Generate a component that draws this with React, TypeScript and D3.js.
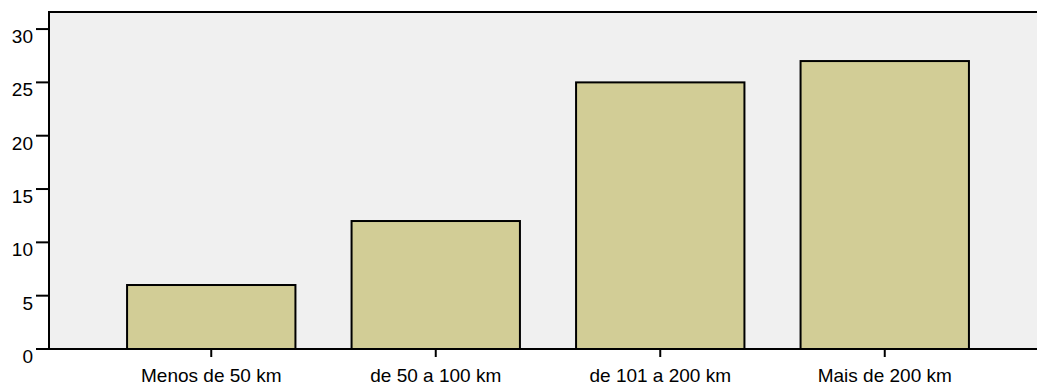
import { useEffect, useRef } from 'react';
import * as d3 from 'd3';

const categories = ['Menos de 50 km', 'de 50 a 100 km', 'de 101 a 200 km', 'Mais de 200 km'];
const counts = [6, 12, 25, 27];
const yTicks = [0, 5, 10, 15, 20, 25, 30];

export default function App() {
  const svgRef = useRef<SVGSVGElement>(null);

  useEffect(() => {
    if (!svgRef.current) return;
    const svg = d3.select(svgRef.current);
    svg.selectAll('*').remove();

    const width = 1037;
    const height = 385;
    const left = 49;
    const top = 12;
    const bottom = 349;
    const font = 'Liberation Sans, Arial, Helvetica, sans-serif';

    const y = d3.scaleLinear().domain([0, 31.6]).range([bottom, top]);
    const x = d3.scaleBand<string>().domain(categories).range([99, 997]).paddingInner(0.25).paddingOuter(0.125);

    svg.attr('width', width).attr('height', height);

    svg.append('rect')
      .attr('x', left).attr('y', top)
      .attr('width', width - left).attr('height', bottom - top)
      .attr('fill', '#f0f0f0');

    svg.selectAll('rect.bar')
      .data(counts)
      .enter()
      .append('rect')
      .attr('class', 'bar')
      .attr('x', (_, i) => x(categories[i])!)
      .attr('width', x.bandwidth())
      .attr('y', (d) => y(d))
      .attr('height', (d) => bottom - y(d))
      .attr('fill', '#d2cd96')
      .attr('stroke', '#000')
      .attr('stroke-width', 2);

    // frame lines
    svg.append('line').attr('x1', left).attr('x2', width).attr('y1', top).attr('y2', top)
      .attr('stroke', '#000').attr('stroke-width', 2);
    svg.append('line').attr('x1', left).attr('x2', left).attr('y1', top - 1).attr('y2', bottom)
      .attr('stroke', '#000').attr('stroke-width', 2);
    svg.append('line').attr('x1', 36).attr('x2', width).attr('y1', bottom).attr('y2', bottom)
      .attr('stroke', '#000').attr('stroke-width', 2);

    // y ticks
    const yt = svg.append('g');
    yTicks.forEach((t) => {
      yt.append('line').attr('x1', 36).attr('x2', left).attr('y1', y(t)).attr('y2', y(t))
        .attr('stroke', '#000').attr('stroke-width', 2);
      yt.append('text')
        .attr('x', 33).attr('y', y(t) + 14)
        .attr('text-anchor', 'end')
        .attr('font-family', font).attr('font-size', 19)
        .attr('fill', '#000')
        .text(t);
    });

    // x ticks
    const xt = svg.append('g');
    categories.forEach((c) => {
      const cx = x(c)! + x.bandwidth() / 2;
      xt.append('line').attr('x1', cx).attr('x2', cx).attr('y1', bottom).attr('y2', bottom + 8)
        .attr('stroke', '#000').attr('stroke-width', 2);
      xt.append('text')
        .attr('x', cx).attr('y', 382)
        .attr('text-anchor', 'middle')
        .attr('font-family', font).attr('font-size', 19)
        .attr('fill', '#000')
        .text(c);
    });
  }, []);

  return (
    <div style={{ position: 'absolute', left: 0, top: 0 }}>
      <svg ref={svgRef} style={{ display: 'block' }} />
    </div>
  );
}
